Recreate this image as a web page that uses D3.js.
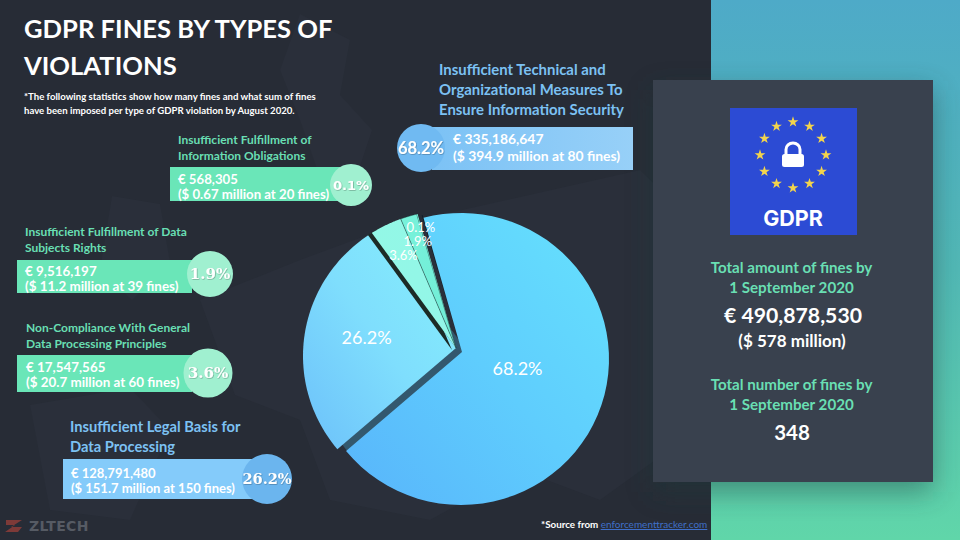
<!DOCTYPE html>
<html lang="en">
<head>
    <meta charset="utf-8">
    <title>GDPR fines</title>
    <script src="https://d3js.org/d3.v7.min.js" charset="utf-8"></script>
    <style type="text/css">
        html, body { margin: 0; padding: 0; background: #272c36; overflow: hidden; }
        svg { display: block; }
        text { font-family: Lato, sans-serif; }
    </style>
</head>
<body>
    <script type="text/javascript">
        var categories = [
            "Insufficient Technical and Organizational Measures To Ensure Information Security",
            "Insufficient Legal Basis for Data Processing",
            "Non-Compliance With General Data Processing Principles",
            "Insufficient Fulfillment of Data Subjects Rights",
            "Insufficient Fulfillment of Information Obligations"
        ];
        var shares = [68.2, 26.2, 3.6, 1.9, 0.1];
        var euros = ["€ 335,186,647", "€  128,791,480", "€ 17,547,565", "€ 9,516,197", "€ 568,305"];
        var dollars = ["394.9", "151.7", "20.7", "11.2", "0.67"];
        var fines = [80, 150, 60, 39, 20];
        var titleLines = [
            ["Insufficient Technical and", "Organizational Measures To", "Ensure Information Security"],
            ["Insufficient Legal Basis for", "Data Processing"],
            ["Non-Compliance With General", "Data Processing Principles"],
            ["Insufficient Fulfillment of Data", "Subjects Rights"],
            ["Insufficient Fulfillment of", "Information Obligations"]
        ];

        var width = 960, height = 540;
        var svg = d3.select("body").append("svg").attr("width", width).attr("height", height);
        var defs = svg.append("defs");

        function gradient(id, x1, y1, x2, y2, stops) {
            var g = defs.append("linearGradient").attr("id", id)
                .attr("x1", x1).attr("y1", y1).attr("x2", x2).attr("y2", y2);
            stops.forEach(function (s, i) {
                g.append("stop").attr("offset", i / (stops.length - 1)).attr("stop-color", s);
            });
        }
        gradient("side", 0, 0, 0, 1, ["#4eaac8", "#52b9b6", "#60d6a9"]);
        gradient("s0", 1, 0, 0, 1, ["#66e2fd", "#5fcdfd", "#58b4fb"]);
        gradient("s1", 1, 0, 0, 1, ["#86f0fc", "#7fdefd", "#6cc0fa"]);
        gradient("s2", 0, 0, 1, 1, ["#93f8e6", "#93f6e8"]);
        gradient("s3", 0, 0, 1, 1, ["#78f2da", "#70ecd6"]);
        gradient("s4", 0, 0, 1, 1, ["#78f2da", "#70ecd6"]);
        gradient("barBlue", 0, 0, 1, 0, ["#7cc2f5", "#97d0f8"]);

        var blur = defs.append("filter").attr("id", "soft").attr("x", "-20%").attr("y", "-20%")
            .attr("width", "140%").attr("height", "140%");
        blur.append("feGaussianBlur").attr("stdDeviation", 14);
        var tshadow = defs.append("filter").attr("id", "tshadow");
        tshadow.append("feDropShadow").attr("dx", 0.6).attr("dy", 0.6).attr("stdDeviation", 0.5)
            .attr("flood-color", "#000").attr("flood-opacity", 0.35);

        // background
        svg.append("rect").attr("width", width).attr("height", height).attr("fill", "#272c36");

        // faint map of Europe behind everything
        var land = [
            "M300,14 L350,40 L340,95 L372,130 L352,190 L318,172 L300,120 L280,70 Z",
            "M112,196 L160,204 L170,262 L132,300 L100,270 Z",
            "M200,300 L300,260 L395,225 L640,170 L711,240 L711,420 L600,500 L520,470 L430,520 L330,500 L300,420 L235,395 Z",
            "M30,405 L130,388 L170,430 L130,520 L50,510 Z"
        ];
        svg.append("g").selectAll("path").data(land).enter().append("path")
            .attr("d", function (d) { return d; })
            .attr("fill", "#2a2f3a");

        // right column
        svg.append("rect").attr("x", 711).attr("width", 249).attr("height", height).attr("fill", "url(#side)");
        svg.append("rect").attr("x", 653).attr("y", 90).attr("width", 280).attr("height", 402)
            .attr("fill", "#1e3a3a").attr("opacity", 0.45).attr("filter", "url(#soft)");
        svg.append("rect").attr("x", 653).attr("y", 80).attr("width", 280).attr("height", 402).attr("fill", "#39414e");

        // pie: each slice is a wedge from its apex out to its rim
        var pie = d3.pie().sort(null)
            .startAngle(-16 * Math.PI / 180)
            .endAngle(344 * Math.PI / 180);
        var arcs = pie(shares);

        var apex = [[462, 352], [456, 348], [456, 348], [456, 348], [456, 348]];
        var rims = [
            { cx: 461, cy: 359, rx: 148, ry: 146 },
            { cx: 452, cy: 356, rx: 149, ry: 146 },
            { cx: 452, cy: 356, rx: 149, ry: 146 },
            { cx: 452, cy: 356, rx: 149, ry: 146 },
            { cx: 452, cy: 356, rx: 149, ry: 146 }
        ];
        var labelRadius = [58, 90, 106, 113, 126];
        var labelSize = [18, 18, 13, 13, 13];

        function rimPoint(i, a) {
            var r = rims[i], px = (apex[i][0] - r.cx) / r.rx, py = (apex[i][1] - r.cy) / r.ry;
            var dx = Math.sin(a) / r.rx, dy = -Math.cos(a) / r.ry;
            var A = dx * dx + dy * dy, B = 2 * (px * dx + py * dy), C = px * px + py * py - 1;
            var t = (-B + Math.sqrt(B * B - 4 * A * C)) / (2 * A);
            return [apex[i][0] + t * Math.sin(a), apex[i][1] - t * Math.cos(a)];
        }
        function wedge(i) {
            var a0 = arcs[i].startAngle, a1 = arcs[i].endAngle;
            var pts = [apex[i]];
            d3.range(0, 61).forEach(function (k) { pts.push(rimPoint(i, a0 + (a1 - a0) * k / 60)); });
            return d3.line()(pts) + "Z";
        }

        var gPie = svg.append("g");
        // side walls under the exploded slices
        gPie.append("path").attr("d", wedge(1)).attr("fill", "#33586e").attr("transform", "translate(11,3)");
        gPie.append("path").attr("d", wedge(4)).attr("fill", "#10202a").attr("transform", "translate(5,1)");
        gPie.append("path").attr("d", wedge(0)).attr("fill", "url(#s0)");
        gPie.append("path").attr("d", wedge(1)).attr("fill", "url(#s1)");
        gPie.append("path").attr("d", wedge(2)).attr("fill", "#1c2b26").attr("transform", "translate(-4,2)");
        gPie.selectAll("path.teal").data([2, 3, 4]).enter().append("path").attr("class", "teal")
            .attr("d", function (i) { return wedge(i); })
            .attr("fill", function (i) { return "url(#s" + i + ")"; })
            .attr("stroke", function (i) { return i === 3 ? "#1c3a38" : "none"; })
            .attr("stroke-width", 0.5);
        gPie.append("g").selectAll("text").data(arcs).enter().append("text")
            .attr("x", function (d, i) { return apex[i][0] + labelRadius[i] * Math.sin((d.startAngle + d.endAngle) / 2); })
            .attr("y", function (d, i) { return apex[i][1] - labelRadius[i] * Math.cos((d.startAngle + d.endAngle) / 2); })
            .attr("dy", "0.35em")
            .attr("text-anchor", "middle")
            .attr("fill", "#fff")
            .attr("font-size", function (d, i) { return labelSize[i]; })
            .text(function (d) { return d.value.toFixed(1) + "%"; });

        function text(x, y, str, size, fill, weight, anchor, family) {
            return svg.append("text").attr("x", x).attr("y", y).text(str)
                .attr("font-size", size).attr("fill", fill)
                .attr("font-weight", weight || "normal")
                .attr("text-anchor", anchor || "start")
                .style("font-family", family || null);
        }

        // heading
        text(24, 38, "GDPR FINES BY TYPES OF", 25.6, "#fff", "bold");
        text(24, 75, "VIOLATIONS", 25.6, "#fff", "bold");
        text(24, 100, "*The following statistics show how many fines and what sum of fines", 9.6, "#fff", "bold");
        text(24, 114, "have been imposed per type of GDPR violation by August 2020.", 9.6, "#fff", "bold");

        // callouts, listed in the same order as the slices
        var callouts = [
            { bar: [432, 127, 201, 43], bub: [421, 148, 24], tx: 439, ty: 75, lh: 20, ts: 14.9, vx: 453, vy: 144, vlh: 17, vs: 13.9,
              color: "#7cc1f3", barFill: "url(#barBlue)", bubFill: "#70baf2", ps: 16.5, family: null },
            { bar: [63, 459, 190, 40], bub: [267, 479, 25], tx: 70, ty: 432, lh: 20, ts: 14.7, vx: 71, vy: 478, vlh: 15, vs: 13,
              color: "#7cc1f3", barFill: "#84cbfa", bubFill: "#6bb5ee", ps: 14.5, family: "DejaVu Serif" },
            { bar: [17, 355, 175, 37], bub: [208, 373, 24.5], tx: 26, ty: 332, lh: 16, ts: 12, vx: 26, vy: 372, vlh: 15, vs: 13.4,
              color: "#69dfb3", barFill: "#6ae6b8", bubFill: "#a0f0d0", ps: 15, family: "DejaVu Serif" },
            { bar: [17, 260, 175, 33], bub: [210, 274, 23], tx: 25, ty: 236, lh: 16, ts: 12, vx: 25, vy: 276, vlh: 15, vs: 13.4,
              color: "#69dfb3", barFill: "#6ae6b8", bubFill: "#a0f0d0", ps: 15, family: "DejaVu Serif" },
            { bar: [170, 167, 170, 34], bub: [351, 185, 21], tx: 178, ty: 144, lh: 16, ts: 12, vx: 178, vy: 184, vlh: 15, vs: 13.2,
              color: "#69dfb3", barFill: "#6ae6b8", bubFill: "#a0f0d0", ps: 13, family: "DejaVu Sans" }
        ];
        callouts.forEach(function (c, i) {
            titleLines[i].forEach(function (line, k) {
                text(c.tx, c.ty + k * c.lh, line, c.ts, c.color, "bold");
            });
            svg.append("rect").attr("x", c.bar[0]).attr("y", c.bar[1]).attr("width", c.bar[2]).attr("height", c.bar[3]).attr("fill", c.barFill);
            svg.append("circle").attr("cx", c.bub[0]).attr("cy", c.bub[1]).attr("r", c.bub[2]).attr("fill", c.bubFill);
            text(c.vx, c.vy, euros[i], c.vs, "#fff", "bold");
            text(c.vx, c.vy + c.vlh, "($ " + dollars[i] + " million at " + fines[i] + " fines)", c.vs, "#fff", "bold");
            text(c.bub[0], c.bub[1] + c.ps * 0.36, shares[i].toFixed(1) + "%", c.ps, "#fff", "bold", "middle", c.family)
                .attr("filter", "url(#tshadow)");
        });

        // GDPR badge
        var badge = svg.append("g").attr("transform", "translate(793,156)");
        badge.append("rect").attr("x", -63).attr("y", -48).attr("width", 127).attr("height", 127).attr("fill", "#2c4bd4");
        var star = d3.symbol().type(d3.symbolStar).size(36);
        badge.selectAll("path.star").data(d3.range(12)).enter().append("path").attr("class", "star")
            .attr("d", star())
            .attr("fill", "#f3d44c")
            .attr("transform", function (i) {
                var a = i * Math.PI / 6;
                return "translate(" + (33 * Math.sin(a)) + "," + (-1 - 33 * Math.cos(a)) + ")";
            });
        badge.append("path").attr("d", "M-7,0 V-6.5 A7,6.5 0 0 1 7,-6.5 V0").attr("fill", "none")
            .attr("stroke", "#fff").attr("stroke-width", 3);
        badge.append("rect").attr("x", -11).attr("y", -2).attr("width", 22).attr("height", 13).attr("rx", 2.5).attr("fill", "#fff");
        badge.append("text").attr("x", 0).attr("y", 70).attr("text-anchor", "middle")
            .attr("font-size", 21.5).attr("font-weight", "bold").attr("fill", "#fff")
            .style("font-family", "Inter").text("GDPR");

        // totals
        text(791.5, 273, "Total amount of fines by", 15.15, "#69dfb3", "bold", "middle");
        text(791.5, 293, "1 September 2020", 15.15, "#69dfb3", "bold", "middle");
        text(793, 323, "€ 490,878,530", 21.2, "#fff", "bold", "middle");
        text(792, 347, "($ 578 million)", 17, "#fff", "bold", "middle");
        text(791.5, 390, "Total number of fines by", 15.15, "#69dfb3", "bold", "middle");
        text(791.5, 410, "1 September 2020", 15.15, "#69dfb3", "bold", "middle");
        text(792, 440, "348", 20.5, "#fff", "bold", "middle");

        // source and logo
        var src = text(541, 528, "*Source from ", 9.8, "#fff", "bold");
        src.append("tspan").attr("fill", "#3f6fc8").attr("font-weight", "normal")
            .attr("text-decoration", "underline").attr("font-size", 10).text("enforcementtracker.com");
        svg.append("path").attr("d", "M6,520 H22 L11,527 H22 L18,532 H5 L15,525 H6 Z").attr("fill", "#7d3a38");
        text(29, 531, "ZLTECH", 14, "#565b64", "bold").style("font-family", "DejaVu Sans").attr("letter-spacing", 0.3);
    </script>
</body>
</html>
